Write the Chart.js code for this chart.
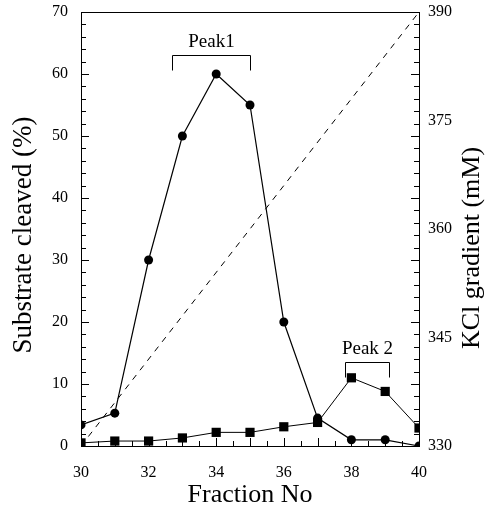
<!DOCTYPE html>
<html><head><meta charset="utf-8">
<script src="https://cdn.jsdelivr.net/npm/chart.js@4.4.1/dist/chart.umd.min.js"></script>
<style>html,body{margin:0;padding:0;background:#fff}#wrap{width:487px;height:508px}</style>
</head><body><div id="wrap"><canvas id="c" width="487" height="508"></canvas></div>
<script>
// ---- data ----
const fractions = [30, 31, 32, 33, 34, 35, 36, 37, 38, 39, 40];
const cleavedCircles = [3.4, 5.3, 30, 50, 60, 55, 20, 4.5, 1, 1, 0];
const cleavedSquares = [0.5, 0.8, 0.8, 1.3, 2.2, 2.2, 3.1, 3.8, 11, 8.8, 2.9];
const gradientFractions = [30, 40];
const kclGradient = [330, 390];
const leftTickValues = [0, 10, 20, 30, 40, 50, 60, 70];
const rightTickValues = [330, 345, 360, 375, 390];
const xTickValues = [30, 32, 34, 36, 38, 40];
const peakLabels = ['Peak1', 'Peak 2'];
const peakStart = [32.7, 37.8];
const peakEnd = [35.0, 39.1];
const peakLevel = [63.1, 13.5];
const axisTitles = { left: 'Substrate cleaved (%)', right: 'KCl gradient (mM)', bottom: 'Fraction No' };

const FONT = "'Liberation Serif', 'Times New Roman', serif";

const decor = {
  id: 'decor',
  afterDraw(chart) {
    const ctx = chart.ctx, a = chart.chartArea;
    const x = chart.scales.x, y = chart.scales.y;
    ctx.save();
    ctx.strokeStyle = '#000'; ctx.lineWidth = 1;
    // top frame line
    ctx.beginPath(); ctx.moveTo(a.left, a.top + 0.5); ctx.lineTo(a.right, a.top + 0.5); ctx.stroke();
    // inward ticks: left & right every 2 units
    ctx.beginPath();
    for (let v = 0; v <= 70; v += 2) {
      const py = Math.round(y.getPixelForValue(v)) + 0.5;
      const len = v % 10 === 0 ? 8 : 5;
      ctx.moveTo(a.left, py); ctx.lineTo(a.left + len, py);
      ctx.moveTo(a.right, py); ctx.lineTo(a.right - len, py);
    }
    // bottom ticks every 0.5
    for (let v = 30; v <= 40; v += 0.5) {
      const px = Math.round(x.getPixelForValue(v)) + 0.5;
      const len = Number.isInteger(v) ? 8 : 5;
      ctx.moveTo(px, a.bottom); ctx.lineTo(px, a.bottom - len);
    }
    ctx.stroke();
    // peak brackets
    ctx.fillStyle = '#000';
    ctx.font = '19px ' + FONT;
    ctx.textAlign = 'center'; ctx.textBaseline = 'bottom';
    for (let i = 0; i < peakLabels.length; i++) {
      const x1 = Math.round(x.getPixelForValue(peakStart[i])) + 0.5;
      const x2 = Math.round(x.getPixelForValue(peakEnd[i])) + 0.5;
      const py = Math.round(y.getPixelForValue(peakLevel[i])) + 0.5;
      ctx.beginPath();
      ctx.moveTo(x1, py + 15); ctx.lineTo(x1, py); ctx.lineTo(x2, py); ctx.lineTo(x2, py + 15);
      ctx.stroke();
      ctx.fillText(peakLabels[i], (x1 + x2) / 2, py - 4);
    }
    // axis titles
    ctx.font = '27px ' + FONT;
    ctx.textBaseline = 'middle';
    ctx.save(); ctx.translate(24, 235); ctx.rotate(-Math.PI / 2);
    ctx.fillText(axisTitles.left, 0, 0); ctx.restore();
    ctx.font = '26px ' + FONT;
    ctx.save(); ctx.translate(472, 248); ctx.rotate(-Math.PI / 2);
    ctx.fillText(axisTitles.right, 0, 0); ctx.restore();
    ctx.fillText(axisTitles.bottom, (a.left + a.right) / 2, 495);
    ctx.restore();
  }
};

const noPad = s => { s.paddingTop = 0; s.paddingBottom = 0; s.paddingLeft = 0; s.paddingRight = 0; };

new Chart(document.getElementById('c'), {
  type: 'line',
  data: {
    datasets: [
      {
        data: fractions.map((f, i) => ({ x: f, y: cleavedCircles[i] })),
        yAxisID: 'y', borderColor: '#000', borderWidth: 1.2, backgroundColor: '#000',
        pointStyle: 'circle', pointRadius: 4.5, pointBorderWidth: 0, tension: 0
      },
      {
        data: fractions.map((f, i) => ({ x: f, y: cleavedSquares[i] })),
        yAxisID: 'y', borderColor: '#000', borderWidth: 1, backgroundColor: '#000',
        pointStyle: 'rect', pointRadius: 6.5, pointBorderWidth: 0, tension: 0
      },
      {
        data: gradientFractions.map((f, i) => ({ x: f, y: kclGradient[i] })),
        yAxisID: 'y2', borderColor: '#000', borderWidth: 1, borderDash: [6, 6],
        pointRadius: 0, tension: 0
      }
    ]
  },
  options: {
    responsive: false, animation: false, devicePixelRatio: 1,
    layout: { padding: { top: 12, left: 0, right: 0, bottom: 0 } },
    plugins: { legend: { display: false }, tooltip: { enabled: false } },
    scales: {
      x: {
        type: 'linear', min: 30, max: 40,
        afterBuildTicks: s => { s.ticks = xTickValues.map(v => ({ value: v })); },
        ticks: { color: '#000', font: { family: FONT, size: 16 }, padding: 17, maxRotation: 0 },
        grid: { display: false, drawTicks: false },
        border: { display: true, color: '#000', width: 1 },
        afterFit: s => { s.height = 62; noPad(s); }
      },
      y: {
        position: 'left', min: 0, max: 70,
        afterBuildTicks: s => { s.ticks = leftTickValues.map(v => ({ value: v })); },
        ticks: { color: '#000', font: { family: FONT, size: 16 }, padding: 13 },
        grid: { display: false, drawTicks: false },
        border: { display: true, color: '#000', width: 1 },
        afterFit: s => { s.width = 81; noPad(s); }
      },
      y2: {
        position: 'right', min: 330, max: 390,
        afterBuildTicks: s => { s.ticks = rightTickValues.map(v => ({ value: v })); },
        ticks: { color: '#000', font: { family: FONT, size: 16 }, padding: 9 },
        grid: { display: false, drawTicks: false },
        border: { display: true, color: '#000', width: 1 },
        afterFit: s => { s.width = 68; noPad(s); }
      }
    }
  },
  plugins: [decor]
});
</script></body></html>
